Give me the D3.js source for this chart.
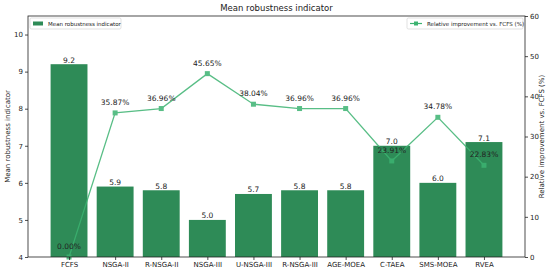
<!DOCTYPE html>
<html>
<head>
<meta charset="utf-8">
<script src="https://cdn.jsdelivr.net/npm/d3@7"></script>
<style>
  body { margin: 0; background: #fff; }
  text { font-family: "DejaVu Sans", sans-serif; fill: #222; }
</style>
</head>
<body>
<div id="chart"></div>
<script>
var algorithms = ["FCFS", "NSGA-II", "R-NSGA-II", "NSGA-III", "U-NSGA-III", "R-NSGA-III", "AGE-MOEA", "C-TAEA", "SMS-MOEA", "RVEA"];
var robustness = [9.2, 5.9, 5.8, 5.0, 5.7, 5.8, 5.8, 7.0, 6.0, 7.1];
var improvement = [0.00, 35.87, 36.96, 45.65, 38.04, 36.96, 36.96, 23.91, 34.78, 22.83];
var leftTicks = [4, 5, 6, 7, 8, 9, 10];
var rightTicks = [0, 10, 20, 30, 40, 50, 60];

(function () {
    var width = 550,
        height = 272;
    var margin = {top: 16, right: 25, bottom: 15, left: 28};
    var w = width - margin.left - margin.right,
        h = height - margin.top - margin.bottom;

    var barColor = "#2e8b57",
        lineColor = "#3cb371";

    var svg = d3.select("#chart")
        .append("svg")
        .attr("width", width)
        .attr("height", height);

    var g = svg.append("g")
        .attr("transform", "translate(" + margin.left + "," + margin.top + ")");

    // matplotlib style x: bars at integer positions, 5% margins
    var x = d3.scaleLinear().domain([-0.89, 9.89]).range([0, w]);
    var y = d3.scaleLinear().domain([4, 10.5]).range([h, 0]);
    var y2 = d3.scaleLinear().domain([0, 60]).range([h, 0]);
    var bw = x(0.8) - x(0);

    // bars
    g.selectAll(".bar")
        .data(robustness)
        .enter().append("rect")
        .attr("class", "bar")
        .attr("x", function (d, i) { return x(i) - bw / 2; })
        .attr("y", function (d) { return y(d); })
        .attr("width", bw)
        .attr("height", function (d) { return h - y(d); })
        .attr("fill", barColor);

    // bar labels
    g.selectAll(".blab")
        .data(robustness)
        .enter().append("text")
        .attr("class", "blab")
        .attr("x", function (d, i) { return x(i); })
        .attr("y", function (d) { return y(d) - 1.5; })
        .attr("text-anchor", "middle")
        .style("font-size", "7.5px")
        .text(function (d) { return d.toFixed(1); });

    // line on the twin axis
    var line = d3.line()
        .x(function (d, i) { return x(i); })
        .y(function (d) { return y2(d); });

    var lg = g.append("g").attr("opacity", 0.85);
    lg.append("path")
        .datum(improvement)
        .attr("d", line)
        .attr("fill", "none")
        .attr("stroke", lineColor)
        .attr("stroke-width", 1.3);

    lg.selectAll(".pt")
        .data(improvement)
        .enter().append("rect")
        .attr("class", "pt")
        .attr("x", function (d, i) { return x(i) - 2.5; })
        .attr("y", function (d) { return y2(d) - 2.5; })
        .attr("width", 5)
        .attr("height", 5)
        .attr("fill", lineColor);

    // percent labels
    g.selectAll(".plab")
        .data(improvement)
        .enter().append("text")
        .attr("class", "plab")
        .attr("x", function (d, i) { return x(i); })
        .attr("y", function (d) { return y2(d) - 8; })
        .attr("text-anchor", "middle")
        .style("font-size", "7.5px")
        .text(function (d) { return d.toFixed(2) + "%"; });

    // axes
    var xAxis = d3.axisBottom(x)
        .tickValues(d3.range(algorithms.length))
        .tickFormat(function (i) { return algorithms[i]; })
        .tickSize(3).tickPadding(2).tickSizeOuter(0);
    var yAxis = d3.axisLeft(y).tickValues(leftTicks).tickFormat(d3.format("d")).tickSize(3).tickPadding(2);
    var yAxis2 = d3.axisRight(y2).tickValues(rightTicks).tickFormat(d3.format("d")).tickSize(3).tickPadding(2);

    var gx = g.append("g").attr("transform", "translate(0," + h + ")").call(xAxis);
    var gy = g.append("g").call(yAxis);
    var gy2 = g.append("g").attr("transform", "translate(" + w + ",0)").call(yAxis2);
    [gx, gy, gy2].forEach(function (a) {
        a.selectAll("text").style("font-size", "7px").style("font-family", "DejaVu Sans, sans-serif").attr("fill", "#222");
        a.selectAll("line").attr("stroke", "#222").attr("stroke-width", 0.8);
        a.select(".domain").remove();
    });

    // frame
    g.append("rect")
        .attr("width", w).attr("height", h)
        .attr("fill", "none")
        .attr("stroke", "#222")
        .attr("stroke-width", 0.8);

    // title and axis labels
    svg.append("text")
        .attr("x", margin.left + w / 2)
        .attr("y", 11)
        .attr("text-anchor", "middle")
        .style("font-size", "8.5px")
        .text("Mean robustness indicator");

    svg.append("text")
        .attr("transform", "translate(10," + (margin.top + h / 2) + ") rotate(-90)")
        .attr("text-anchor", "middle")
        .style("font-size", "7px")
        .text("Mean robustness indicator");

    svg.append("text")
        .attr("transform", "translate(544," + (margin.top + h / 2) + ") rotate(-90)")
        .attr("text-anchor", "middle")
        .style("font-size", "7px")
        .text("Relative improvement vs. FCFS (%)");

    // legends
    var l1 = g.append("g").attr("transform", "translate(2,2)");
    l1.append("rect").attr("width", 91).attr("height", 11)
        .attr("fill", "#fff").attr("fill-opacity", 0.8)
        .attr("stroke", "#ccc").attr("stroke-width", 0.6).attr("rx", 1.5);
    l1.append("rect").attr("x", 3).attr("y", 3.5).attr("width", 10).attr("height", 4).attr("fill", barColor);
    l1.append("text").attr("x", 18).attr("y", 8).style("font-size", "5.5px").text("Mean robustness indicator");

    var l2 = g.append("g").attr("transform", "translate(" + (w - 118) + ",2)");
    l2.append("rect").attr("width", 116).attr("height", 11)
        .attr("fill", "#fff").attr("fill-opacity", 0.8)
        .attr("stroke", "#ccc").attr("stroke-width", 0.6).attr("rx", 1.5);
    l2.append("line").attr("x1", 3).attr("x2", 15).attr("y1", 5.5).attr("y2", 5.5)
        .attr("stroke", lineColor).attr("stroke-width", 1.2);
    l2.append("rect").attr("x", 7).attr("y", 3.5).attr("width", 4).attr("height", 4).attr("fill", lineColor);
    l2.append("text").attr("x", 20).attr("y", 8).style("font-size", "5.5px").text("Relative improvement vs. FCFS (%)");
})();
</script>
</body>
</html>
